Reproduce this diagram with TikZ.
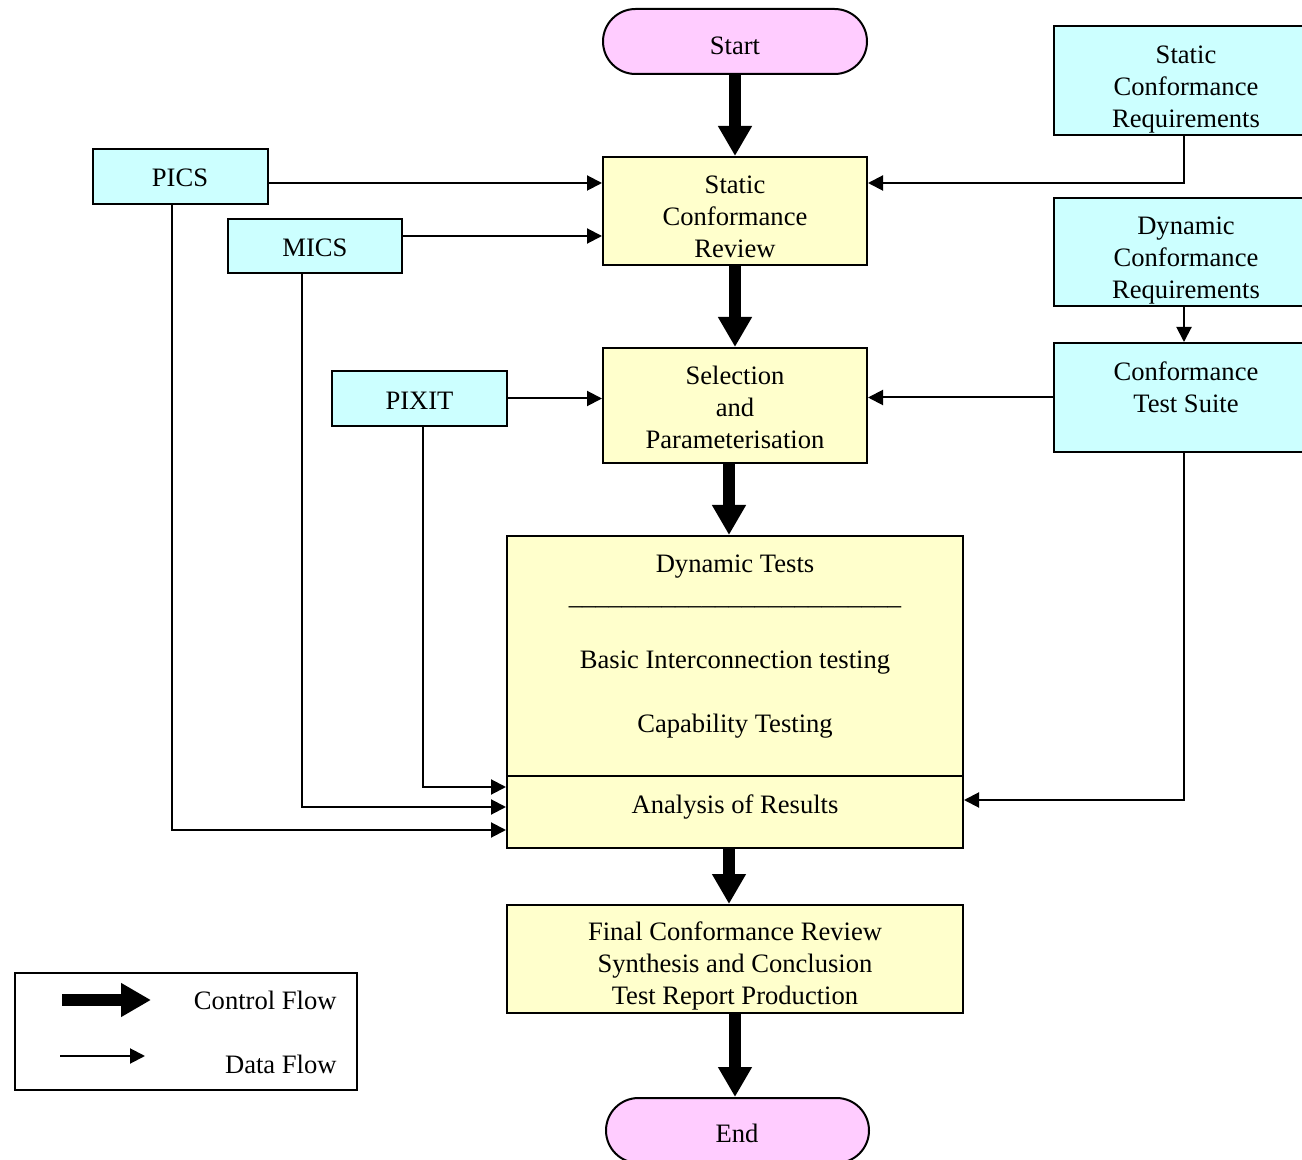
\documentclass[tikz,border=0pt]{standalone}
\usepackage{fontspec}
\setmainfont{Liberation Serif}
\usetikzlibrary{arrows.meta}
\definecolor{yelbox}{HTML}{FFFFCC}
\definecolor{cyanbox}{HTML}{CCFFFF}
\definecolor{pinkbox}{HTML}{FFCCFF}
\begin{document}
\begin{tikzpicture}[x=0.5pt,y=-0.5pt,
  basebox/.style={draw, line width=1pt, inner sep=0pt},
  ybox/.style={basebox, fill=yelbox},
  cbox/.style={basebox, fill=cyanbox},
  pbox/.style={basebox, fill=pinkbox, rounded corners=16.25pt},
  txt/.style={font=\fontsize{13.3pt}{16pt}\selectfont, align=center, inner sep=0pt, yshift=-2pt,
              execute at begin node=\strut, execute at end node=\strut},
  ctrl/.style={line width=6pt, -{Triangle[width=16pt,length=15pt]}},
  data/.style={line width=1pt, -{Triangle[width=7.5pt,length=7.5pt]}}]
\useasboundingbox (0,0) rectangle (1302,1160);

% boxes
\node[pbox, minimum width=132pt, minimum height=32.5pt] (start) at (735,41.5) {};
\node[ybox, minimum width=132pt, minimum height=54pt] (scr) at (735,211) {};
\node[ybox, minimum width=132pt, minimum height=57.5pt] (sel) at (735,405.5) {};
\node[ybox, minimum width=228pt, minimum height=120pt] (dyn) at (735,656) {};
\node[ybox, minimum width=228pt, minimum height=36pt] (ana) at (735,812) {};
\node[ybox, minimum width=228pt, minimum height=54pt] (final) at (735,959) {};
\node[pbox, minimum width=131.5pt, minimum height=32.5pt] (endn) at (737.5,1130.5) {};
\node[cbox, minimum width=87.5pt, minimum height=27.5pt] (pics) at (180.5,176.5) {};
\node[cbox, minimum width=87pt, minimum height=27pt] (mics) at (315,246) {};
\node[cbox, minimum width=87.5pt, minimum height=27.5pt] (pixit) at (419.5,398.5) {};
\node[cbox, minimum width=132pt, minimum height=54.5pt] (screq) at (1186,80.5) {};
\node[cbox, minimum width=132pt, minimum height=54pt] (dcreq) at (1186,252) {};
\node[cbox, minimum width=132pt, minimum height=54.5pt] (cts) at (1186,397.5) {};
\node[basebox, minimum width=171pt, minimum height=58.5pt] (legend) at (186,1031.5) {};

% texts
\node[txt] (tstart) at (735,44) {Start};
\node[txt] (tscr) at (735,217) {Static\\Conformance\\Review};
\node[txt] (tsel) at (735,408) {Selection\\and\\Parameterisation};
\node[txt] (tdyn) at (735,644.6) {Dynamic Tests\\\_\_\_\_\_\_\_\_\_\_\_\_\_\_\_\_\_\_\_\_\_\_\_\_\_\\\mbox{}\\Basic Interconnection testing\\\mbox{}\\Capability Testing};
\node[txt] (tana) at (735,803) {Analysis of Results};
\node[txt] (tfinal) at (735,964) {Final Conformance Review\\Synthesis and Conclusion\\Test Report Production};
\node[txt] (tend) at (737,1132) {End};
\node[txt] (tpics) at (180,176) {PICS};
\node[txt] (tmics) at (315,246) {MICS};
\node[txt] (tpixit) at (419.5,399) {PIXIT};
\node[txt] (tscreq) at (1186,87) {Static\\Conformance\\Requirements};
\node[txt] (tdcreq) at (1186,258) {Dynamic\\Conformance\\Requirements};
\node[txt] (tcts) at (1186,388) {Conformance\\Test Suite};
\node[txt, anchor=east] (tcf) at (337,999) {Control Flow};
\node[txt, anchor=east] (tdf) at (337,1063) {Data Flow};

% helper coordinates
\coordinate (r183) at (0,183);
\coordinate (r236) at (0,236);
\coordinate (r787) at (0,787);
\coordinate (r800) at (0,800);
\coordinate (r807) at (0,807);
\coordinate (r830) at (0,830);
\coordinate (lc1) at (62,1000);
\coordinate (lc2) at (151,1000);
\coordinate (ld1) at (60,1056);
\coordinate (ld2) at (145,1056);

% control flow
\draw[ctrl] (start) -- (scr);
\draw[ctrl] (scr) -- (sel);
\draw[ctrl] ([xshift=-3pt]sel.south) -- ([xshift=-3pt]dyn.north);
\draw[ctrl] ([xshift=-3pt]ana.south) -- ([xshift=-3pt]final.north);
\draw[ctrl] (final.south) -- (final.south |- endn.north);

% data flow
\draw[data] (pics.east |- r183) -- (scr.west |- r183);
\draw[data] (mics.east |- r236) -- (scr.west |- r236);
\draw[data] ([xshift=-1pt]screq.south) |- (scr.east |- r183);
\draw[data] (pixit.east) -- (pixit.east -| sel.west);
\draw[data] (cts.west) -- (cts.west -| sel.east);
\draw[data] ([xshift=-1pt]dcreq.south) -- ([xshift=-1pt]cts.north);
\draw[data] ([xshift=-1pt]cts.south) |- (ana.east |- r800);
\draw[data] ([xshift=1.75pt]pixit.south) |- (ana.west |- r787);
\draw[data] ([xshift=-6.5pt]mics.south) |- (ana.west |- r807);
\draw[data] ([xshift=-4.25pt]pics.south) |- (ana.west |- r830);

% legend
\draw[ctrl] (lc1) -- (lc2);
\draw[data] (ld1) -- (ld2);
\end{tikzpicture}
\end{document}
